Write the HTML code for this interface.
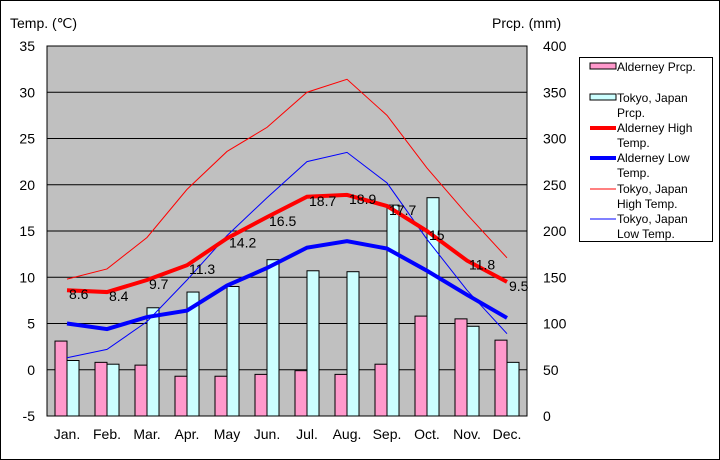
<!DOCTYPE html>
<html><head><meta charset="utf-8"><style>
body{margin:0;background:#fff}
svg{display:block;font-family:"Liberation Sans",sans-serif}
</style></head><body>
<svg id="c" width="720" height="460" xmlns="http://www.w3.org/2000/svg">
<rect x="0.5" y="0.5" width="719" height="459" fill="#fff" stroke="#000"/>
<rect x="47" y="46" width="480" height="370" fill="#c0c0c0" stroke="#000"/>
<text x="10" y="28" font-size="14">Temp. (℃)</text>
<text x="492" y="28" font-size="14">Prcp. (mm)</text>
<g id="grid"></g><g id="bars"></g><g id="lines"></g><g id="axes"></g><g id="labels"></g>
<g>
<rect x="579.5" y="57.5" width="133" height="184" fill="#fff" stroke="#000"/>
<rect x="590" y="63" width="26" height="6" fill="#ff99cc" stroke="#000"/>
<text x="617" y="71" font-size="12">Alderney Prcp.</text>
<rect x="590" y="94" width="26" height="6" fill="#ccffff" stroke="#000"/>
<text x="617" y="102" font-size="12"><tspan x="617">Tokyo, Japan</tspan><tspan x="617" dy="15">Prcp.</tspan></text>
<line x1="590" y1="128" x2="616" y2="128" stroke="#f00" stroke-width="4"/>
<text x="617" y="132" font-size="12"><tspan x="617">Alderney High</tspan><tspan x="617" dy="15">Temp.</tspan></text>
<line x1="590" y1="158" x2="616" y2="158" stroke="#00f" stroke-width="4"/>
<text x="617" y="162" font-size="12"><tspan x="617">Alderney Low</tspan><tspan x="617" dy="15">Temp.</tspan></text>
<line x1="590" y1="189" x2="616" y2="189" stroke="#f00" stroke-width="1"/>
<text x="617" y="193" font-size="12"><tspan x="617">Tokyo, Japan</tspan><tspan x="617" dy="15">High Temp.</tspan></text>
<line x1="590" y1="219" x2="616" y2="219" stroke="#00f" stroke-width="1"/>
<text x="617" y="223" font-size="12"><tspan x="617">Tokyo, Japan</tspan><tspan x="617" dy="15">Low Temp.</tspan></text>
</g>
</svg>
<script>
const months=["Jan.","Feb.","Mar.","Apr.","May","Jun.","Jul.","Aug.","Sep.","Oct.","Nov.","Dec."];
const alderneyPrcp=[81,58,55,43,43,45,49,45,56,108,105,82];
const tokyoPrcp=[60,56,117,134,140,169,157,156,228,236,97,58];
const alderneyHigh=[8.6,8.4,9.7,11.3,14.2,16.5,18.7,18.9,17.7,15,11.8,9.5];
const alderneyLow=[5.0,4.4,5.7,6.4,9.1,11.0,13.2,13.9,13.1,10.7,8.1,5.6];
const tokyoHigh=[9.8,10.9,14.3,19.5,23.6,26.2,30.0,31.4,27.5,21.8,16.8,12.1];
const tokyoLow=[1.3,2.2,5.2,9.7,14.5,18.6,22.5,23.5,20.2,14.1,8.6,3.9];
const tempTicks=[35,30,25,20,15,10,5,0,-5];
const prcpTicks=[400,350,300,250,200,150,100,50,0];
const NS="http://www.w3.org/2000/svg";
const L=47,R=527,T=46,B=416;
const yT=v=>T+(35-v)*(B-T)/40;
const yP=v=>B-v*(B-T)/400;
const xC=i=>L+(i+0.5)*(R-L)/12;
function mk(tag,attrs,parent){const e=document.createElementNS(NS,tag);for(const k in attrs)e.setAttribute(k,attrs[k]);document.getElementById(parent).appendChild(e);return e;}
tempTicks.forEach((t,i)=>{
  const y=yT(t);
  if(t<35&&t>-5){const g=mk("line",{x1:L,x2:R,y1:y,y2:y,stroke:"#000","stroke-width":1},"grid");
  
  }
  const tx=mk("text",{x:L-12,y:y+5,"font-size":14,"text-anchor":"end"},"axes");tx.textContent=t;
  
  
});
prcpTicks.forEach(p=>{
  const tx=mk("text",{x:R+16,y:yP(p)+5,"font-size":14},"axes");tx.textContent=p;
  
  
});
months.forEach((m,i)=>{
  const tx=mk("text",{x:xC(i),y:439,"font-size":14,"text-anchor":"middle"},"axes");tx.textContent=m;
  
  
  const a=mk("rect",{x:xC(i)-12,y:yP(alderneyPrcp[i]),width:12,height:B-yP(alderneyPrcp[i]),fill:"#ff99cc",stroke:"#000"},"bars");
  
  
  const b=mk("rect",{x:xC(i),y:yP(tokyoPrcp[i]),width:12,height:B-yP(tokyoPrcp[i]),fill:"#ccffff",stroke:"#000"},"bars");
  
  
});
function line(arr,color,w,name){
  const p=mk("polyline",{points:arr.map((v,i)=>xC(i)+","+yT(v)).join(" "),fill:"none",stroke:color,"stroke-width":w},"lines");
  
  
}
line(tokyoHigh,"#f00",1,"line-tokyo-high");
line(tokyoLow,"#00f",1,"line-tokyo-low");
line(alderneyHigh,"#f00",4,"line-alderney-high");
line(alderneyLow,"#00f",4,"line-alderney-low");
alderneyHigh.forEach((v,i)=>{
  const tx=mk("text",{x:xC(i)+2,y:yT(v)+9,"font-size":14},"labels");tx.textContent=v;
  
  
});
</script>
</body></html>
